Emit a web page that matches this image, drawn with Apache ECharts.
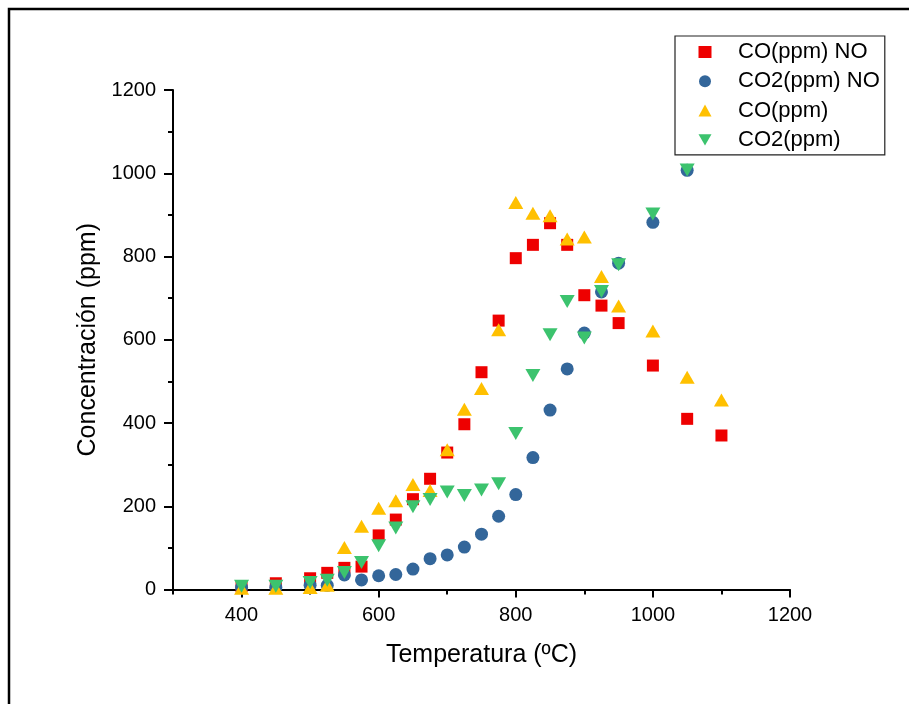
<!DOCTYPE html>
<html>
<head>
<meta charset="utf-8">
<script src="https://cdn.jsdelivr.net/npm/echarts@6/dist/echarts.min.js"></script>
<style>
html,body{margin:0;padding:0;background:#fff;}
#chart{width:909px;height:704px;}
</style>
</head>
<body>
<div id="chart"></div>
<script>
// ---- data ----
const seriesNames = ['CO(ppm) NO', 'CO2(ppm) NO', 'CO(ppm)', 'CO2(ppm)'];

const tempCONO = [400,450,500,525,550,575,600,625,650,675,700,725,750,775,800,825,850,875,900,925,950,1000,1050,1100];
const valCONO  = [8,15,27,40,52,55,130,168,217,266,329,397,522,646,796,828,880,828,707,682,640,538,410,370];

const tempCO2NO = [400,450,500,525,550,575,600,625,650,675,700,725,750,775,800,825,850,875,900,925,950,1000,1050];
const valCO2NO  = [5,5,10,10,35,23,33,36,49,74,83,102,133,176,228,317,431,530,616,715,784,882,1007];

const tempCO = [400,450,500,525,550,575,600,625,650,675,700,725,750,775,800,825,850,875,900,925,950,1000,1050,1100];
const valCO  = [3,3,5,10,101,152,195,213,252,238,336,433,483,624,930,904,898,842,847,752,681,621,510,455];

const tempCO2 = [400,450,500,525,550,575,600,625,650,675,700,725,750,775,800,825,850,875,900,925,950,1000,1050];
const valCO2  = [8,8,17,22,41,65,105,148,199,216,234,226,239,254,375,514,612,692,604,716,780,902,1008];

const xMajorTicks = [400,600,800,1000,1200];
const xMinorTicks = [300,500,700,900,1100];

const xTitle = 'Temperatura (ºC)';
const yTitle = 'Concentración (ppm)';

function pairs(xs, ys){ return xs.map((x,i)=>[x, ys[i]]); }
const plain = v => String(v);

const FONT = 'Liberation Sans, Arial, sans-serif';
const chart = echarts.init(document.getElementById('chart'), null, {renderer:'canvas'});

const option = {
  backgroundColor: '#ffffff',
  animation: false,
  graphic: [{
    type: 'rect',
    shape: {x: 9, y: 9, width: 1000, height: 1000},
    style: {fill: 'none', stroke: '#000', lineWidth: 2.5},
    silent: true, z: 100
  }],
  grid: {left: 173, top: 90, width: 617, height: 499.5},
  legend: {
    orient: 'vertical',
    left: 675, top: 36,
    padding: [5, 5, 4, 23.5],
    itemWidth: 13, itemHeight: 12,
    itemGap: 7.3,
    borderColor: '#222', borderWidth: 1.2,
    textStyle: {fontFamily: FONT, fontSize: 22, color: '#000', padding: [0, 0, 0, 21.5]},
    data: seriesNames
  },
  xAxis: [{
    type: 'value', min: 300, max: 1200,
    name: xTitle, nameLocation: 'middle', nameGap: 53,
    nameTextStyle: {fontFamily: FONT, fontSize: 25, color: '#000'},
    axisLine: {show: true, lineStyle: {color: '#000', width: 2}},
    axisTick: {show: true, customValues: xMajorTicks, length: 8, lineStyle: {color: '#000', width: 2}},
    axisLabel: {customValues: xMajorTicks, formatter: plain, margin: 16, fontFamily: FONT, fontSize: 20, color: '#000'},
    splitLine: {show: false}
  }, {
    type: 'value', min: 300, max: 1200, position: 'bottom',
    axisLine: {show: false},
    axisTick: {show: true, customValues: xMinorTicks, length: 5, lineStyle: {color: '#000', width: 2}},
    axisLabel: {show: false},
    splitLine: {show: false}
  }],
  yAxis: {
    type: 'value', min: 0, max: 1200, interval: 200,
    name: yTitle, nameLocation: 'middle', nameGap: 60,
    nameTextStyle: {fontFamily: FONT, fontSize: 25, color: '#000'},
    axisLine: {show: true, lineStyle: {color: '#000', width: 2}},
    axisTick: {show: true, length: 9, lineStyle: {color: '#000', width: 2}},
    minorTick: {show: true, splitNumber: 2, length: 5, lineStyle: {color: '#000', width: 2}},
    axisLabel: {formatter: plain, margin: 17, fontFamily: FONT, fontSize: 20, color: '#000'},
    splitLine: {show: false}
  },
  series: [
    {name: seriesNames[0], type: 'scatter', symbol: 'rect', symbolSize: 12,
     itemStyle: {color: '#EE0000', opacity: 1}, data: pairs(tempCONO, valCONO)},
    {name: seriesNames[1], type: 'scatter', symbol: 'circle', symbolSize: 13,
     itemStyle: {color: '#33669A', opacity: 1}, data: pairs(tempCO2NO, valCO2NO)},
    {name: seriesNames[2], type: 'scatter', symbol: 'triangle', symbolSize: [15, 13],
     itemStyle: {color: '#FFC000', opacity: 1}, data: pairs(tempCO, valCO)},
    {name: seriesNames[3], type: 'scatter', symbol: 'path://M0,0L2,0L1,1.732Z', symbolSize: [15, 13],
     itemStyle: {color: '#3CC36E', opacity: 1}, data: pairs(tempCO2, valCO2)}
  ]
};
chart.setOption(option);
</script>
</body>
</html>
